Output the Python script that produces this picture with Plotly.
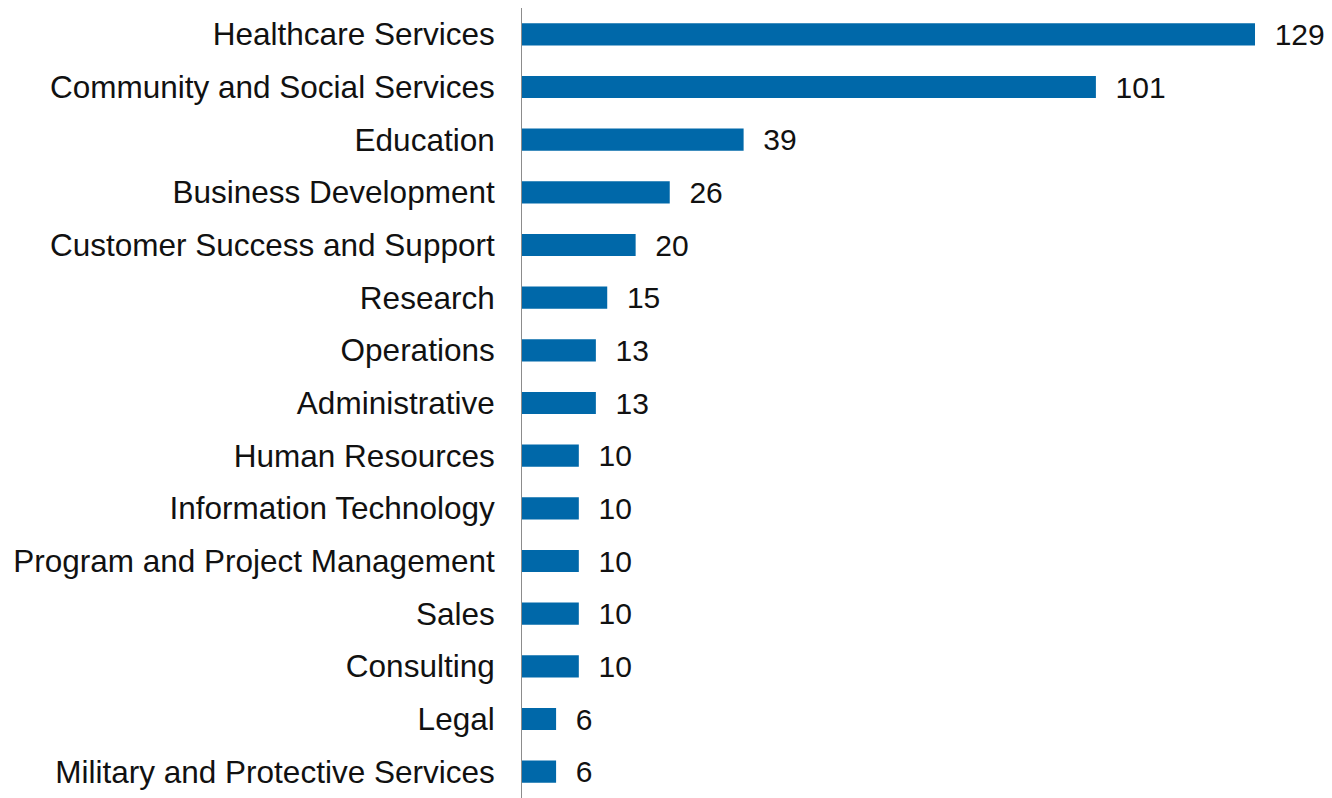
import plotly.graph_objects as go

categories = [
    "Healthcare Services",
    "Community and Social Services",
    "Education",
    "Business Development",
    "Customer Success and Support",
    "Research",
    "Operations",
    "Administrative",
    "Human Resources",
    "Information Technology",
    "Program and Project Management",
    "Sales",
    "Consulting",
    "Legal",
    "Military and Protective Services",
]
counts = [129, 101, 39, 26, 20, 15, 13, 13, 10, 10, 10, 10, 10, 6, 6]

BAR_COLOR = "#0068A9"
FONT = "Liberation Sans, Arial, sans-serif"

fig = go.Figure(go.Bar(
    x=counts,
    y=categories,
    orientation="h",
    marker=dict(color=BAR_COLOR, line=dict(width=0)),
    width=0.42,
    text=counts,
    texttemplate="  %{x}",
    textposition="outside",
    constraintext="none",
    cliponaxis=False,
    textfont=dict(family=FONT, size=30, color="#111111"),
    hoverinfo="skip",
))

fig.update_yaxes(
    autorange="reversed",
    automargin=False,
    showline=True,
    linecolor="#8c8c8c",
    linewidth=1,
    ticks="",
    ticklabelstandoff=20,
    showgrid=False,
    tickfont=dict(family=FONT, size=31.5, color="#111111"),
)
fig.update_xaxes(
    range=[0, 142.55],
    visible=False,
    showgrid=False,
    zeroline=False,
)
# page body has an 8px margin, so the figure is sized to the remaining area
fig.update_layout(
    width=1324,
    height=790,
    margin=dict(l=514, r=0, t=0, b=0),
    plot_bgcolor="white",
    paper_bgcolor="white",
    showlegend=False,
)

fig.write_html("out.html")
